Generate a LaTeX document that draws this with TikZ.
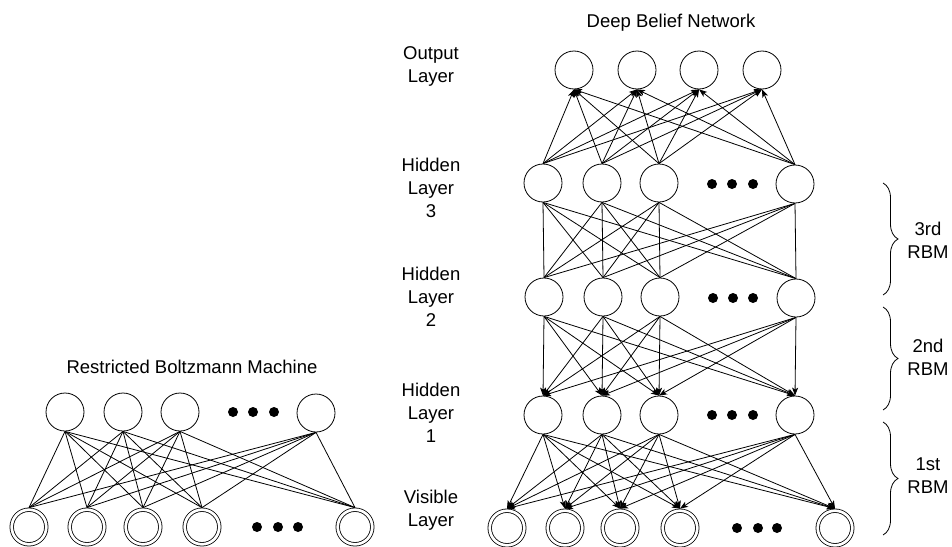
\documentclass[tikz,border=0pt]{standalone}
\usepackage{fontspec}
\setmainfont{Liberation Sans}
\usetikzlibrary{arrows.meta,decorations.pathreplacing}
\tikzset{
  neuron/.style={circle,draw,line width=0.8pt,minimum size=38pt,inner sep=0pt},
  visnode/.style={circle,draw,line width=0.8pt,double,double distance=2.7pt,minimum size=34.6pt,inner sep=0pt,outer sep=2.1pt},
  blackdot/.style={circle,fill=black,minimum size=10pt,inner sep=0pt},
  conn/.style={line width=0.8pt},
  arr/.style={line width=0.8pt,-{Stealth[length=8pt,width=6pt,inset=2pt]}},
  lbl/.style={font=\fontsize{18.5pt}{23pt}\selectfont,align=center,inner sep=0pt},
  bracebar/.style={line width=0.8pt,decorate,decoration={brace,amplitude=15pt}}
}
\begin{document}
\begin{tikzpicture}[x=1pt,y=-1pt]
\useasboundingbox (0,0) rectangle (952,546);
% ---------- RBM ----------
\node[lbl] (rbmtitle) at (192,367) {Restricted Boltzmann Machine};
\node[neuron] (ra1) at (65,412) {};
\node[neuron] (ra2) at (123,412) {};
\node[neuron] (ra3) at (180,412) {};
\node[neuron] (ra4) at (316,413) {};
\node[blackdot] (rad1) at (233,412) {};
\node[blackdot] (rad2) at (253,412) {};
\node[blackdot] (rad3) at (274,412) {};
\node[visnode] (rb1) at (29,527) {};
\node[visnode] (rb2) at (87,527) {};
\node[visnode] (rb3) at (143,527) {};
\node[visnode] (rb4) at (202,527) {};
\node[visnode] (rb5) at (355,527) {};
\node[blackdot] (rbd1) at (257,527) {};
\node[blackdot] (rbd2) at (278,527) {};
\node[blackdot] (rbd3) at (298,527) {};
\foreach \a in {1,...,4}{\foreach \b in {1,...,5}{\draw[conn] (ra\a.south) -- (rb\b.north);}}
% ---------- DBN ----------
\node[lbl] (dbntitle) at (671,23) {Deep Belief Network};
\node[neuron] (o1) at (574,70) {};
\node[neuron] (o2) at (637,70) {};
\node[neuron] (o3) at (699,70) {};
\node[neuron] (o4) at (762,70) {};
\node[neuron] (t1) at (543,183) {};
\node[neuron] (t2) at (602,183) {};
\node[neuron] (t3) at (659,183) {};
\node[neuron] (t4) at (795,184) {};
\node[blackdot] (td1) at (712,184) {};
\node[blackdot] (td2) at (732,184) {};
\node[blackdot] (td3) at (753,184) {};
\node[neuron] (s1) at (544,297) {};
\node[neuron] (s2) at (603,297) {};
\node[neuron] (s3) at (660,297) {};
\node[neuron] (s4) at (796,298) {};
\node[blackdot] (sd1) at (713,298) {};
\node[blackdot] (sd2) at (733,298) {};
\node[blackdot] (sd3) at (753,298) {};
\node[neuron] (f1) at (543,415) {};
\node[neuron] (f2) at (602,415) {};
\node[neuron] (f3) at (659,415) {};
\node[neuron] (f4) at (795,415) {};
\node[blackdot] (fd1) at (712,415) {};
\node[blackdot] (fd2) at (732,415) {};
\node[blackdot] (fd3) at (753,415) {};
\node[visnode] (v1) at (507,528) {};
\node[visnode] (v2) at (565,528) {};
\node[visnode] (v3) at (620,528) {};
\node[visnode] (v4) at (680,528) {};
\node[visnode] (v5) at (835,528) {};
\node[blackdot] (vd1) at (737,528) {};
\node[blackdot] (vd2) at (758,528) {};
\node[blackdot] (vd3) at (777,528) {};
\foreach \a in {1,...,4}{\foreach \b in {1,...,4}{\draw[arr] (t\a.north) -- (o\b.south);}}
\foreach \a in {1,...,4}{\foreach \b in {1,...,4}{\draw[conn] (s\a.north) -- (t\b.south);}}
\foreach \a in {1,...,4}{\foreach \b in {1,...,4}{\draw[arr] (s\a.south) -- (f\b.north);}}
\foreach \a in {1,...,4}{\foreach \b in {1,...,5}{\draw[arr] (f\a.south) -- (v\b.north);}}
% ---------- layer labels ----------
\node[lbl] (lout) at (431,66) {Output\\Layer};
\node[lbl] (lh3) at (431,188) {Hidden\\Layer\\3};
\node[lbl] (lh2) at (431,297) {Hidden\\Layer\\2};
\node[lbl] (lh1) at (431,413) {Hidden\\Layer\\1};
\node[lbl] (lvis) at (431,510) {Visible\\Layer};
% ---------- braces ----------
\coordinate (b3t) at (883,183);
\coordinate (b3b) at (883,295);
\coordinate (b2t) at (883,307);
\coordinate (b2b) at (883,410);
\coordinate (b1t) at (883,422);
\coordinate (b1b) at (883,535);
\draw[bracebar] (b3t) -- (b3b);
\draw[bracebar] (b2t) -- (b2b);
\draw[bracebar] (b1t) -- (b1b);
\node[lbl] (l3rbm) at (928,240) {3rd\\RBM};
\node[lbl] (l2rbm) at (928,357) {2nd\\RBM};
\node[lbl] (l1rbm) at (928,476) {1st\\RBM};
\end{tikzpicture}
\end{document}
